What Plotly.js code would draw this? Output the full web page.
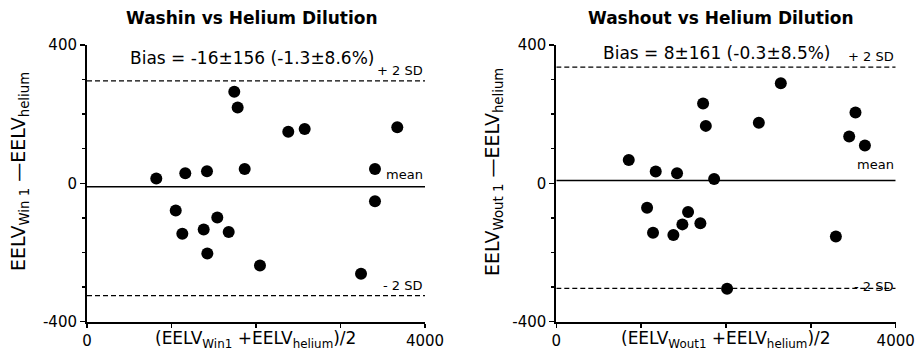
<!DOCTYPE html>
<html><head><meta charset="utf-8">
<script src="https://cdn.plot.ly/plotly-3.0.1.min.js"></script>
<style>html,body{margin:0;padding:0;background:#fff;}#chart{width:918px;height:352px;}</style>
</head><body><div id="chart"></div>
<script>
// Washin vs Helium Dilution
const washinX = [1743,1783,2382,2576,3672,1866,1420,1163,820,3408,1050,1128,1381,1542,1677,1424,2047,3243,3408];
const washinY = [265,219,149,157,162,41,35,29,14,41,-79,-146,-134,-99,-141,-203,-238,-262,-52];
// Washout vs Helium Dilution
const washoutX = [2646,1730,1762,2387,3526,3452,3637,854,1172,1423,1860,1070,1140,1380,1486,1553,1698,3295,2013];
const washoutY = [289,231,166,175,205,135,109,67,34,29,12,-71,-143,-150,-119,-83,-116,-154,-305];
// reference lines: [mean, +2SD, -2SD]
const washinLines = [-10, 296, -325];
const washoutLines = [8, 336, -304];
const panelTitles = ['Washin vs Helium Dilution', 'Washout vs Helium Dilution'];
const biasTexts = ['Bias = -16±156 (-1.3±8.6%)', 'Bias = 8±161 (-0.3±8.5%)'];
const lineLabels = ['mean', '+ 2 SD', '- 2 SD'];
const yTicks = [-400, 0, 400];
const xTicks = [0, 4000];
const xMinor = [1000, 2000, 3000];
const yTitles = ['EELV<sub>Win 1</sub> —EELV<sub>helium</sub>', 'EELV<sub>Wout 1</sub> —EELV<sub>helium</sub>'];
const xTitles = ['(EELV<sub>Win1</sub> +EELV<sub>helium</sub>)/2', '(EELV<sub>Wout1</sub> +EELV<sub>helium</sub>)/2'];

const F = 'DejaVu Sans, Verdana, sans-serif';
const W = 918, H = 352;
const px = v => v / W, py = v => 1 - v / H;

const traces = [
  {x: washinX, y: washinY, xaxis: 'x', yaxis: 'y', mode: 'markers', type: 'scatter',
   marker: {color: '#000', size: 12}},
  {x: washoutX, y: washoutY, xaxis: 'x2', yaxis: 'y2', mode: 'markers', type: 'scatter',
   marker: {color: '#000', size: 12}}
];

function xax(d0, d1, anchor) {
  return {domain: [d0, d1], anchor: anchor, range: [0, 4000], tickvals: xTicks, ticktext: xTicks.map(String),
    showgrid: false, zeroline: false, showline: true, linecolor: '#000', linewidth: 2,
    ticks: 'outside', ticklen: 4, tickwidth: 1.5, tickcolor: '#000',
    minor: {tickvals: xMinor, ticks: 'outside', ticklen: 4, tickwidth: 1.5, tickcolor: '#000'},
    tickfont: {family: F, size: 15, color: '#000'}, fixedrange: true};
}
function yax(anchor) {
  return {domain: [py(321.5), py(45)], anchor: anchor, range: [-400, 400], tickvals: yTicks, ticktext: yTicks.map(String),
    showgrid: false, zeroline: false, showline: true, linecolor: '#000', linewidth: 2,
    ticks: 'outside', ticklen: 5, tickwidth: 1.5, tickcolor: '#000',
    minor: {dtick: 100, ticks: 'outside', ticklen: 3, tickwidth: 1.5, tickcolor: '#000'},
    tickfont: {family: F, size: 15, color: '#000'}, fixedrange: true};
}

const shapes = [];
const annotations = [];
const labelShift = [[3, 1, 1], [6, 1, -8]];
[[washinLines, 'x', 'y'], [washoutLines, 'x2', 'y2']].forEach(([vals, xr, yr], i) => {
  vals.forEach((v, j) => {
    shapes.push({type: 'line', xref: xr, yref: yr, x0: 0, x1: 4000, y0: v, y1: v,
      line: {color: '#000', width: j === 0 ? 1.5 : 1.2, dash: j === 0 ? 'solid' : '5px,3px'}});
    annotations.push({xref: xr, yref: yr, x: 4000, y: v, xanchor: 'right', yanchor: 'bottom',
      yshift: labelShift[i][j], text: lineLabels[j], showarrow: false, font: {family: F, size: 13, color: '#000'}});
  });
});

const xDom = [[px(87), px(425)], [px(556.3), px(895.7)]];
xDom.forEach((d, i) => {
  const cx = (d[0] + d[1]) / 2;
  annotations.push({xref: 'paper', yref: 'paper', x: cx - px(i === 0 ? 4 : 5), y: py(18), xanchor: 'center', yanchor: 'middle',
    text: '<b>' + panelTitles[i] + '</b>', showarrow: false, font: {family: F, size: 17, color: '#000'}});
  annotations.push({xref: 'paper', yref: 'paper', x: d[0] + px(i === 0 ? 41 : 45), y: py(i === 0 ? 58 : 53),
    xanchor: 'left', yanchor: 'middle', text: biasTexts[i], showarrow: false, font: {family: F, size: 17, color: '#000'}});
  annotations.push({xref: 'paper', yref: 'paper', x: cx, y: py(339), xanchor: 'center', yanchor: 'middle',
    text: xTitles[i], showarrow: false, font: {family: F, size: 17, color: '#000'}});
  annotations.push({xref: 'paper', yref: 'paper', x: px(i === 0 ? 19 : 493), y: py(172), xanchor: 'center', yanchor: 'middle',
    textangle: -90, text: yTitles[i], showarrow: false, font: {family: F, size: 19, color: '#000'}});
});

const layout = {
  width: W, height: H, margin: {l: 0, r: 0, t: 0, b: 0},
  paper_bgcolor: '#fff', plot_bgcolor: '#fff', showlegend: false,
  xaxis: xax(xDom[0][0], xDom[0][1], 'y'),
  yaxis: yax('x'),
  xaxis2: xax(xDom[1][0], xDom[1][1], 'y2'),
  yaxis2: yax('x2'),
  shapes: shapes, annotations: annotations
};
Plotly.newPlot('chart', traces, layout, {staticPlot: true, displayModeBar: false});
</script></body></html>
